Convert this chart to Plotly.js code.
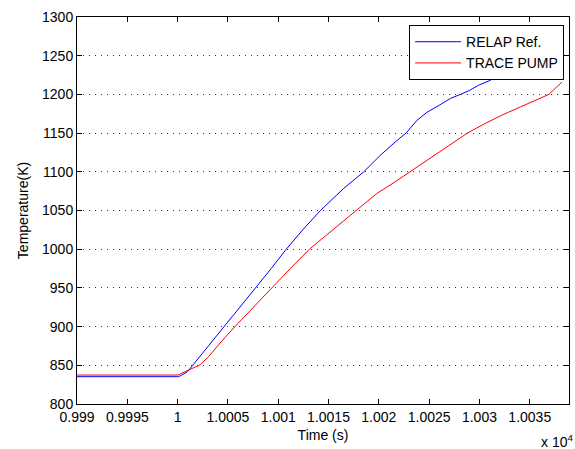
<!DOCTYPE html>
<html>
<head>
<meta charset="utf-8">
<script src="https://cdn.plot.ly/plotly-3.0.1.min.js"></script>
<style>
  html, body { margin: 0; padding: 0; background: #fff; }
  #chart { width: 575px; height: 449px; }
</style>
</head>
<body>
<div id="chart"></div>
<script>
// Fuel temperature transient: RELAP reference vs TRACE pump model
const relapTime = [9990, 10000, 10000.3, 10001, 10001.5, 10002.5, 10004.6, 10006.2, 10007.8,
  10009.3, 10010.8, 10012.5, 10014.2, 10016.5, 10018.5, 10020.2, 10021.8, 10022.7, 10023.8,
  10024.8, 10026, 10027.1, 10028.1, 10029.0, 10029.9, 10031.1, 10032.2, 10034, 10036];
const relapTemp = [835.3, 835.3, 836.5, 842, 850, 866, 900, 925, 950,
  975, 1000, 1026, 1050, 1078.5, 1100, 1122, 1140.4, 1150, 1166.6,
  1177, 1186, 1194.7, 1200, 1205, 1211.8, 1218.3, 1229, 1240, 1250];

const traceTime = [9990, 10000, 10000.3, 10001, 10001.5, 10002.2, 10003, 10004.3, 10005.7,
  10007.5, 10009.4, 10011.2, 10013.1, 10015.2, 10017.9, 10019.8, 10021.5, 10023.1, 10025.1,
  10027.1, 10028.8, 10030.5, 10032.2, 10034.1, 10036.1, 10036.9, 10038.2];
const traceTemp = [837.4, 837.4, 839, 843, 846, 850.5, 860, 880, 900,
  925, 950, 975, 1000, 1022.5, 1050.5, 1072, 1086, 1100, 1118,
  1136, 1150, 1162, 1173, 1184, 1196, 1200, 1216];

const seriesNames = ['RELAP Ref.', 'TRACE PUMP'];

// x axis is in seconds; labels shown in units of 10^4 s
const xTickVals = [9990, 9995, 10000, 10005, 10010, 10015, 10020, 10025, 10030, 10035];
const xTickText = ['0.999', '0.9995', '1', '1.0005', '1.001', '1.0015', '1.002', '1.0025', '1.003', '1.0035'];
const yTickVals = [800, 850, 900, 950, 1000, 1050, 1100, 1150, 1200, 1250, 1300];

const font = { family: '"Liberation Sans", Arial, Helvetica, sans-serif', size: 14, color: '#000' };

const traces = [
  { x: relapTime, y: relapTemp, name: seriesNames[0], type: 'scatter', mode: 'lines',
    line: { color: '#0000ff', width: 1 } },
  { x: traceTime, y: traceTemp, name: seriesNames[1], type: 'scatter', mode: 'lines',
    line: { color: '#ff0000', width: 1 } }
];

const layout = {
  width: 575, height: 449,
  margin: { l: 77, r: 6, t: 17, b: 45 },
  paper_bgcolor: '#fff', plot_bgcolor: '#fff',
  font: font,
  showlegend: true,
  legend: {
    x: 0.99, xanchor: 'right', y: 0.979, yanchor: 'top',
    bgcolor: '#fff', bordercolor: '#000', borderwidth: 1,
    font: font, itemwidth: 46, tracegroupgap: 0
  },
  xaxis: {
    range: [9990, 10038.9],
    tickmode: 'array', tickvals: xTickVals, ticktext: xTickText,
    ticks: 'inside', ticklen: 5, tickcolor: '#000', tickwidth: 1,
    showline: true, linecolor: '#000', linewidth: 1, mirror: 'ticks',
    showgrid: false, zeroline: false,
    title: { text: 'Time (s)', font: font, standoff: 6 },
    tickfont: font
  },
  yaxis: {
    range: [800, 1300],
    tickmode: 'array', tickvals: yTickVals,
    ticks: 'inside', ticklen: 5, tickcolor: '#000', tickwidth: 1,
    showline: true, linecolor: '#000', linewidth: 1, mirror: 'ticks',
    showgrid: true, gridcolor: '#333', gridwidth: 1, griddash: '1px,5px',
    zeroline: false,
    title: { text: 'Temperature(K)', font: font, standoff: 10 },
    tickfont: font
  },
  annotations: [
    { text: 'x 10<sup>4</sup>', xref: 'paper', yref: 'paper', x: 1.012, y: -0.096,
      xanchor: 'right', yanchor: 'middle', showarrow: false, font: font }
  ]
};

Plotly.newPlot('chart', traces, layout, { staticPlot: true, displayModeBar: false });
</script>
</body>
</html>
